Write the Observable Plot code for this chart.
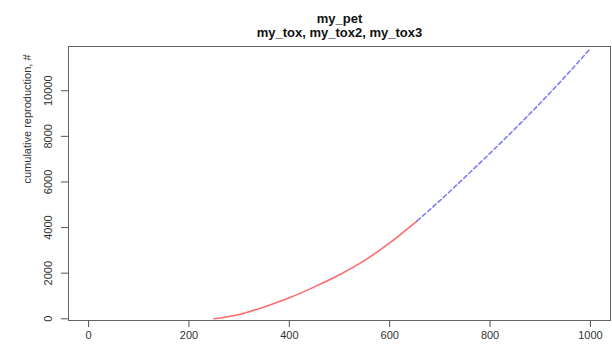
<!DOCTYPE html>
<html>
<head>
<meta charset="utf-8">
<script src="https://cdn.jsdelivr.net/npm/d3@7"></script>
<script src="https://cdn.jsdelivr.net/npm/@observablehq/plot@0.6"></script>
<style>
  html, body { margin: 0; padding: 0; background: #fff; }
  #chart { width: 612px; height: 349px; }
</style>
</head>
<body>
<div id="chart"></div>
<script>
// Titles
const titleLine1 = "my_pet";
const titleLine2 = "my_tox, my_tox2, my_tox3";
const yLabel = "cumulative reproduction, #";

// Tick values
const xTicks = [0, 200, 400, 600, 800, 1000];
const yTicks = [0, 2000, 4000, 6000, 8000, 10000];

// Solid red segment
const redX = [250, 300, 350, 400, 450, 500, 550, 600, 655];
const redY = [0, 190, 520, 920, 1400, 1930, 2560, 3330, 4300];

// Dashed blue segment
const blueX = [655, 700, 750, 800, 850, 900, 950, 1000];
const blueY = [4300, 5180, 6210, 7260, 8340, 9460, 10630, 11850];

const red = redX.map((x, i) => ({x, y: redY[i]}));
const blue = blueX.map((x, i) => ({x, y: blueY[i]}));

const chart = Plot.plot({
  width: 612,
  height: 349,
  marginLeft: 68,
  marginRight: 2,
  marginTop: 46,
  marginBottom: 29,
  style: {fontFamily: "'Liberation Sans', Arial, sans-serif", fontSize: "11px", color: "#333", background: "#fff"},
  x: {domain: [-40, 1040]},
  y: {domain: [-75, 11940]},
  marks: [
    Plot.frame({stroke: "#666", strokeWidth: 1}),
    Plot.axisX({ticks: xTicks, tickFormat: d3.format("d"), tickSize: 7, tickPadding: 4, label: null, stroke: "#555", fill: "#333", fontSize: 11}),
    Plot.axisY({ticks: yTicks, tickFormat: d3.format("d"), tickSize: 7, tickPadding: 10, tickRotate: -90, label: null, stroke: "#555", fill: "#333", fontSize: 11}),
    Plot.text([yLabel], {frameAnchor: "left", text: d => d, rotate: -90, dx: -41, fill: "#333", fontSize: 11}),
    Plot.text([titleLine1], {frameAnchor: "top", text: d => d, dy: -33, fontWeight: "bold", fontSize: 13, fill: "#111"}),
    Plot.text([titleLine2], {frameAnchor: "top", text: d => d, dy: -19, fontWeight: "bold", fontSize: 13, fill: "#111"}),
    Plot.line(red, {x: "x", y: "y", stroke: "#ff6b6b", strokeWidth: 1.6, curve: "monotone-x"}),
    Plot.line(blue, {x: "x", y: "y", stroke: "#7b7bff", strokeWidth: 1.6, strokeDasharray: "4,3", curve: "monotone-x"})
  ]
});
document.getElementById("chart").appendChild(chart);
</script>
</body>
</html>
